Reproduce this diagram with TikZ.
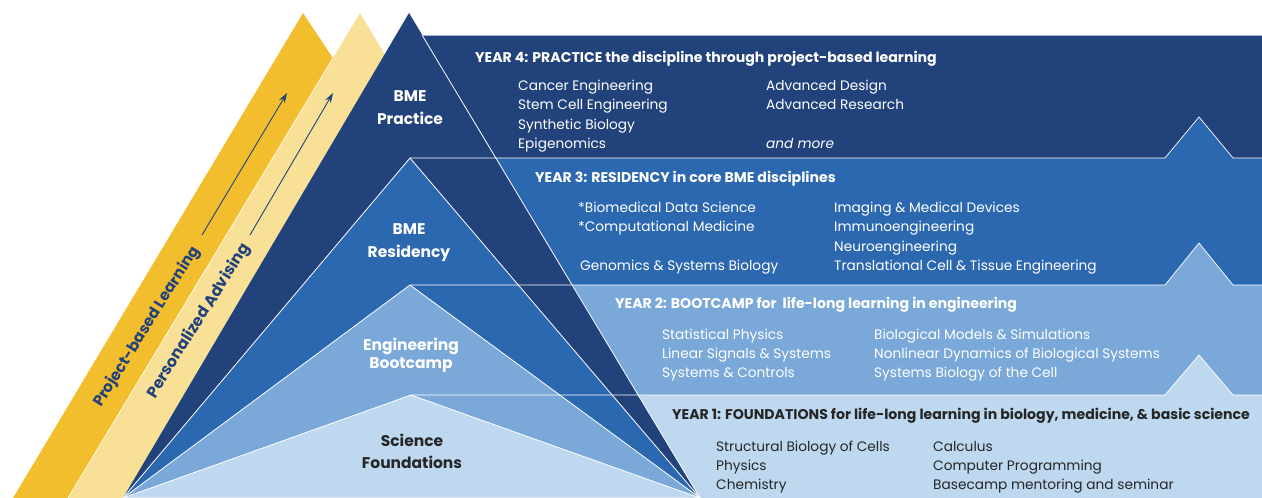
\documentclass[tikz,border=0pt]{standalone}
\usepackage{fontspec}
\setmainfont{Poppins}
\usetikzlibrary{arrows.meta}
\definecolor{navy}{HTML}{21427A}
\definecolor{midblue}{HTML}{2C68B0}
\definecolor{lightblue}{HTML}{7AA8D9}
\definecolor{paleblue}{HTML}{BED8EF}
\definecolor{gold}{HTML}{F3BE2E}
\definecolor{cream}{HTML}{F8E196}
\definecolor{darktext}{HTML}{262626}
\definecolor{topline}{HTML}{A9B8CC}
\begin{document}
\begin{tikzpicture}[x=1pt,y=-1pt,
  sepline/.style={draw=white, line width=0.8pt, line join=miter},
  head/.style={anchor=base west, inner sep=0pt, font=\bfseries\fontsize{14.1}{16}\selectfont},
  item/.style={anchor=base west, inner sep=0pt, font=\fontsize{13.7}{15}\selectfont},
  lab/.style={anchor=base, inner sep=0pt, align=center, font=\bfseries\fontsize{15.5}{23}\selectfont},
  sidetext/.style={rotate=58, text=navy, inner sep=0pt},
  uparrow/.style={draw=navy, line width=0.9pt, -{Stealth[length=10pt,width=6.5pt]}}
]
\useasboundingbox (0,0) rectangle (1262,498);
\begin{scope}
\clip (0,0) rectangle (1262,498);
% ---- year bands ----
\fill[navy] (410,35) rectangle (1262,158);
\fill[midblue] (410,158) -- (1165,158) -- (1199,117) -- (1233,158) -- (1262,158) -- (1262,285) -- (410,285) -- cycle;
\fill[lightblue] (410,285) -- (1165,285) -- (1199,243) -- (1233,285) -- (1262,285) -- (1262,395) -- (410,395) -- cycle;
\fill[paleblue] (410,395) -- (1165,395) -- (1199,355) -- (1233,395) -- (1262,395) -- (1262,498) -- (410,498) -- cycle;
% ---- side bands ----
\fill[cream] (360,13) -- (384.7,54.2) -- (123,498) -- (68,498) -- cycle;
\fill[gold] (303,13) -- (332.9,58) -- (68,498) -- (13,498) -- cycle;
\draw[white, line width=0.6pt] (332.9,58) -- (68,498);
% ---- stacked triangles ----
\fill[navy] (409,13) -- (700,498) -- (123,498) -- cycle;
\draw[sepline] (422,35) -- (700,498);
\filldraw[fill=midblue, sepline] (410,158) -- (700,498) -- (123,498) -- cycle;
\filldraw[fill=lightblue, sepline] (410,285) -- (700,498) -- (123,498) -- cycle;
\filldraw[fill=paleblue, sepline] (411,395) -- (700,498) -- (123,498) -- cycle;
% ---- band separators ----
\draw[topline, line width=0.8pt] (422,35) -- (1262,35);
\draw[sepline, line width=0.7pt] (410,158) -- (1165,158) -- (1199,117) -- (1233,158) -- (1262,158);
\draw[sepline, line width=0.7pt] (410,285) -- (1165,285) -- (1199,243) -- (1233,285) -- (1262,285);
\draw[sepline, line width=0.7pt] (411,395) -- (1165,395) -- (1199,355) -- (1233,395) -- (1262,395);
\end{scope}
% ---- side band texts and arrows ----
\node[sidetext, font=\bfseries\fontsize{15.3}{17}\selectfont] (pbl) at (147,327) {Project-based Learning};
\node[sidetext, font=\bfseries\fontsize{15.8}{17}\selectfont] (pad) at (199,321) {Personalized Advising};
\coordinate (pblA) at (202,235);
\coordinate (pblB) at (287,93);
\coordinate (padA) at (250,235);
\coordinate (padB) at (333,93);
\draw[uparrow] (pblA) -- (pblB);
\draw[uparrow] (padA) -- (padB);
% ---- triangle labels ----
\node[lab, text=white] (practice) at (410,124) {BME\\Practice};
\node[lab, text=white] (residency) at (409,257) {BME\\Residency};
\node[lab, text=white, font=\bfseries\fontsize{15.5}{18}\selectfont] (bootcamp) at (411,368) {Engineering\\Bootcamp};
\node[lab, text=darktext, font=\bfseries\fontsize{15.5}{21.5}\selectfont] (foundations) at (412,468) {Science\\Foundations};
% ---- year 4 ----
\node[head, text=white] (h4) at (475,62) {YEAR 4: PRACTICE the discipline through project-based learning};
\node[item, text=white] (y4a) at (518,90) {Cancer Engineering};
\node[item, text=white] (y4b) at (518,109.5) {Stem Cell Engineering};
\node[item, text=white] (y4c) at (518,129) {Synthetic Biology};
\node[item, text=white] (y4d) at (518,148) {Epigenomics};
\node[item, text=white] (y4e) at (766,90) {Advanced Design};
\node[item, text=white] (y4f) at (766,109.5) {Advanced Research};
\node[item, text=white, font=\itshape\fontsize{13.7}{15}\selectfont] (y4g) at (766,148) {and more};
% ---- year 3 ----
\node[head, text=white] (h3) at (535,182) {YEAR 3: RESIDENCY in core BME disciplines};
\node[item, text=white] (y3a) at (578,212) {*Biomedical Data Science};
\node[item, text=white] (y3b) at (578,231) {*Computational Medicine};
\node[item, text=white] (y3c) at (580,270) {Genomics \& Systems Biology};
\node[item, text=white] (y3d) at (834,212) {Imaging \& Medical Devices};
\node[item, text=white] (y3e) at (834,231) {Immunoengineering};
\node[item, text=white] (y3f) at (834,251) {Neuroengineering};
\node[item, text=white] (y3g) at (834,270) {Translational Cell \& Tissue Engineering};
% ---- year 2 ----
\node[head, text=white] (h2) at (615,308) {YEAR 2: BOOTCAMP for~ life-long learning in engineering};
\node[item, text=white] (y2a) at (662,339) {Statistical Physics};
\node[item, text=white] (y2b) at (662,358) {Linear Signals \& Systems};
\node[item, text=white] (y2c) at (662,377) {Systems \& Controls};
\node[item, text=white] (y2d) at (874,339) {Biological Models \& Simulations};
\node[item, text=white] (y2e) at (874,358) {Nonlinear Dynamics of Biological Systems};
\node[item, text=white] (y2f) at (874,377) {Systems Biology of the Cell};
% ---- year 1 ----
\node[head, text=darktext] (h1) at (672,419) {YEAR 1: FOUNDATIONS for life-long learning in biology, medicine, \& basic science};
\node[item, text=darktext] (y1a) at (716,451) {Structural Biology of Cells};
\node[item, text=darktext] (y1b) at (716,470) {Physics};
\node[item, text=darktext] (y1c) at (716,489) {Chemistry};
\node[item, text=darktext] (y1d) at (933,451) {Calculus};
\node[item, text=darktext] (y1e) at (933,470) {Computer Programming};
\node[item, text=darktext] (y1f) at (933,489) {Basecamp mentoring and seminar};
\end{tikzpicture}
\end{document}
